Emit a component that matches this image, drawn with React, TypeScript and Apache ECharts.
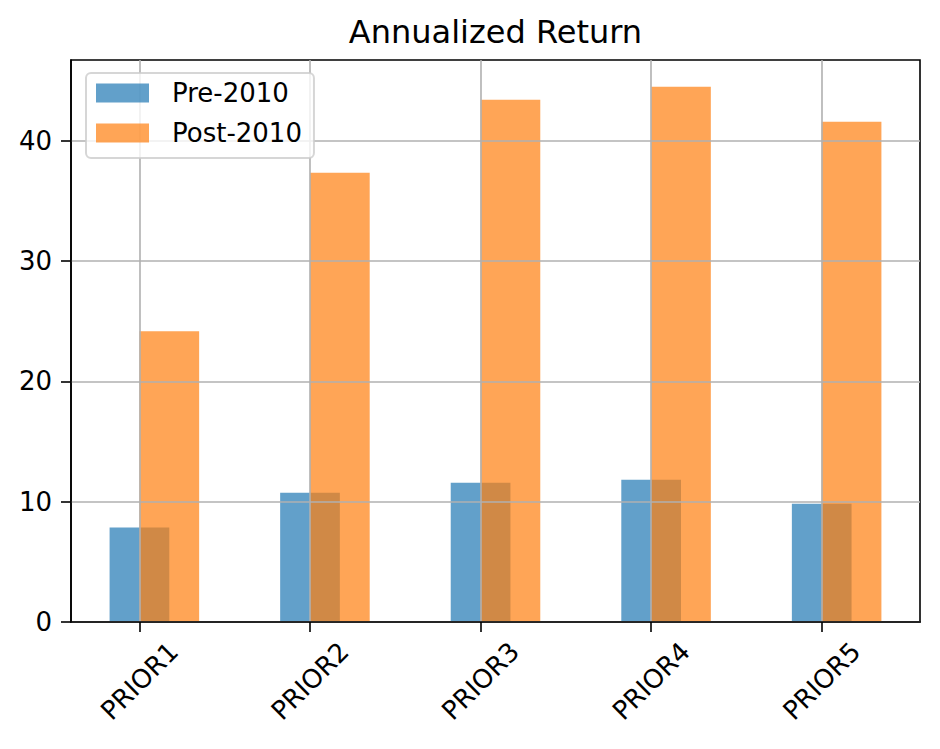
import React, { useEffect, useRef } from "react";
import * as echarts from "echarts";

const categories = ["PRIOR1", "PRIOR2", "PRIOR3", "PRIOR4", "PRIOR5"];
const seriesNames = ["Pre-2010", "Post-2010"];
const preValues = [7.85, 10.75, 11.57, 11.82, 9.83];
const postValues = [24.17, 37.34, 43.39, 44.47, 41.57];
const yTicks = [0, 10, 20, 30, 40];

const BAR_W = 0.35;
const POST_OFFSET = 0.175;
const X_MIN = -0.40125;
const X_MAX = 4.57625;
const Y_MAX = 46.7;

const FONT = "DejaVu Sans";
const BLUE = "rgba(31,119,180,0.7)";
const ORANGE = "rgba(255,127,14,0.7)";

function barRender(params: any, api: any) {
  const x = api.value(0);
  const y = api.value(1);
  const p1 = api.coord([x - BAR_W / 2, y]);
  const p2 = api.coord([x + BAR_W / 2, 0]);
  return {
    type: "rect",
    shape: { x: p1[0], y: p1[1], width: p2[0] - p1[0], height: p2[1] - p1[1] },
    style: { fill: api.visual("color") },
  };
}

export default function App() {
  const ref = useRef<HTMLDivElement>(null);
  useEffect(() => {
    if (!ref.current) return;
    const chart = echarts.init(ref.current, null, { renderer: "svg" });
    const option: any = {
      animation: false,
      backgroundColor: "#ffffff",
      title: {
        text: "Annualized Return",
        left: 495.5,
        textAlign: "center",
        top: 16,
        padding: 0,
        textStyle: { fontFamily: FONT, fontSize: 32, fontWeight: "normal", color: "#000" },
      },
      legend: {
        orient: "vertical",
        left: 86,
        top: 73,
        z: 10,
        padding: [7, 12, 12, 10],
        itemWidth: 53,
        itemHeight: 19,
        itemGap: 14,
        selectedMode: false,
        backgroundColor: "rgba(255,255,255,0.8)",
        borderColor: "rgba(204,204,204,0.8)",
        borderWidth: 2,
        borderRadius: 5,
        data: seriesNames.map((n) => ({ name: n, icon: "rect" })),
        textStyle: { fontFamily: FONT, fontSize: 26, color: "#000", padding: [0, 0, 0, 18] },
      },
      grid: {
        left: 71,
        right: 20,
        top: 60,
        bottom: 127,
        show: true,
        borderColor: "#000",
        borderWidth: 1.6,
        backgroundColor: "transparent",
        outerBoundsMode: "none",
      },
      xAxis: {
        type: "value",
        min: X_MIN,
        max: X_MAX,
        z: 3,
        axisLine: { show: true, onZero: false, lineStyle: { color: "#000", width: 1.6 } },
        axisTick: {
          show: true,
          customValues: categories.map((_, i) => i),
          length: 10,
          lineStyle: { color: "#000", width: 1.6 },
        },
        axisLabel: {
          customValues: categories.map((_, i) => i),
          formatter: (v: number) => categories[Math.round(v)] ?? "",
          rotate: 45,
          align: "center",
          verticalAlign: "middle",
          margin: 59,
          fontFamily: FONT,
          fontSize: 26,
          color: "#000",
        },
        splitLine: { show: true, lineStyle: { color: "#b0b0b0", width: 1.6 } },
      },
      yAxis: {
        type: "value",
        min: 0,
        max: Y_MAX,
        z: 3,
        axisLine: { show: true, onZero: false, lineStyle: { color: "#000", width: 1.6 } },
        axisTick: {
          show: true,
          customValues: yTicks,
          length: 10,
          lineStyle: { color: "#000", width: 1.6 },
        },
        axisLabel: {
          customValues: yTicks,
          margin: 19,
          fontFamily: FONT,
          fontSize: 26,
          color: "#000",
        },
        splitLine: { show: true, lineStyle: { color: "#b0b0b0", width: 1.6 } },
      },
      series: [
        {
          name: seriesNames[0],
          type: "custom",
          z: 1,
          renderItem: barRender,
          itemStyle: { color: BLUE },
          encode: { x: 0, y: 1 },
          data: preValues.map((v, i) => [i, v]),
        },
        {
          name: seriesNames[1],
          type: "custom",
          z: 1,
          renderItem: barRender,
          itemStyle: { color: ORANGE },
          encode: { x: 0, y: 1 },
          data: postValues.map((v, i) => [i + POST_OFFSET, v]),
        },
      ],
    };
    chart.setOption(option);
    return () => chart.dispose();
  }, []);
  return (
    <div
      ref={ref}
      style={{ position: "fixed", left: 0, top: 0, width: 940, height: 749 }}
    />
  );
}
